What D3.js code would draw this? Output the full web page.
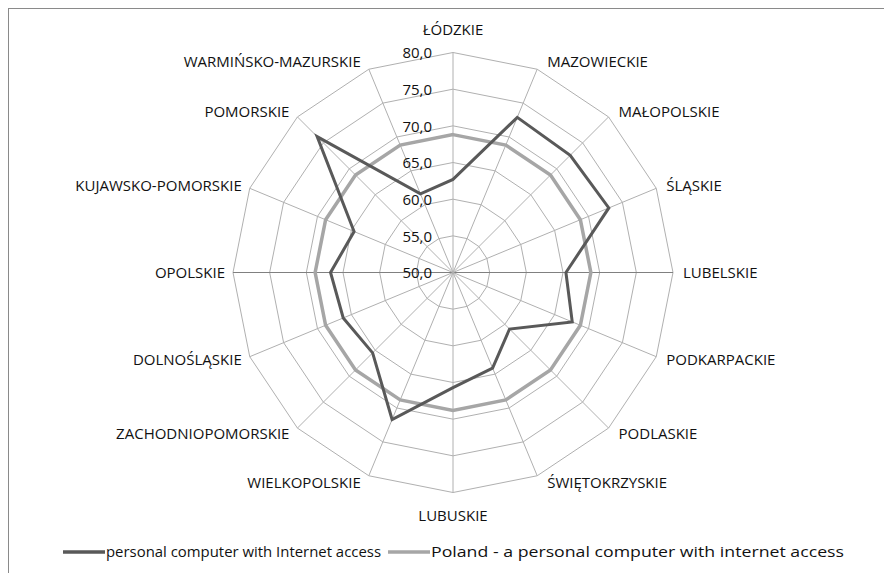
<!DOCTYPE html>
<html>
<head>
<meta charset="utf-8">
<script src="https://cdn.jsdelivr.net/npm/d3@7"></script>
<style>
  body { margin: 0; background: #fff; }
  svg text { font-family: "Open Sans", Lato, sans-serif; fill: #111; }
</style>
</head>
<body>
<svg id="chart" width="884" height="573"></svg>
<script>
var regions = ["ŁÓDZKIE", "MAZOWIECKIE", "MAŁOPOLSKIE", "ŚLĄSKIE", "LUBELSKIE", "PODKARPACKIE",
    "PODLASKIE", "ŚWIĘTOKRZYSKIE", "LUBUSKIE", "WIELKOPOLSKIE", "ZACHODNIOPOMORSKIE",
    "DOLNOŚLĄSKIE", "OPOLSKIE", "KUJAWSKO-POMORSKIE", "POMORSKIE", "WARMIŃSKO-MAZURSKIE"];
var regionValues = [62.7, 72.9, 72.6, 73.0, 65.4, 67.6, 60.9, 64.1, 65.7, 71.7, 65.5, 66.2, 66.7, 64.6, 76.2, 61.6];
var polandValues = [68.8, 68.8, 68.8, 68.8, 68.8, 68.8, 68.8, 68.8, 68.8, 68.8, 68.8, 68.8, 68.8, 68.8, 68.8, 68.8];
var tickValues = [50, 55, 60, 65, 70, 75, 80];
var seriesNames = ["personal computer with Internet access", "Poland - a personal computer with internet access"];

var svg = d3.select("#chart");
var cx = 453, cy = 272.5, R = 220;

var r = d3.scaleLinear().domain([50, 80]).range([0, R]);
var angle = d3.scaleLinear().domain([0, regions.length]).range([0, 2 * Math.PI]);
var fmt = d3.formatLocale({decimal: ",", thousands: " ", grouping: [3], currency: ["", ""]}).format(".1f");

// outer frame
svg.append("rect")
    .attr("x", 8.5).attr("y", 8.5)
    .attr("width", 900).attr("height", 600)
    .attr("fill", "none").attr("stroke", "#8a8a8a");

var g = svg.append("g").attr("transform", "translate(" + cx + "," + cy + ")");

function px(i, v) { return r(v) * Math.sin(angle(i)); }
function py(i, v) { return -r(v) * Math.cos(angle(i)); }

// rings
tickValues.slice(1).forEach(function(t) {
    g.append("path")
        .attr("d", d3.lineRadial().angle(function(d, i) { return angle(i); })
            .radius(function() { return r(t); }).curve(d3.curveLinearClosed)(regions))
        .attr("fill", "none").attr("stroke", "#b0b0b0").attr("stroke-width", 1);
});

// spokes
g.selectAll(".spoke").data(regions).enter().append("line")
    .attr("class", "spoke")
    .attr("x1", 0).attr("y1", 0)
    .attr("x2", function(d, i) { return px(i, 80); })
    .attr("y2", function(d, i) { return py(i, 80); })
    .attr("stroke", function(d, i) { return (i === 4 || i === 12) ? "#808080" : "#b0b0b0"; })
    .attr("stroke-width", 1);

// series
var line = d3.lineRadial()
    .angle(function(d, i) { return angle(i); })
    .radius(function(d) { return r(d); })
    .curve(d3.curveLinearClosed);

g.append("path").attr("d", line(polandValues))
    .attr("fill", "none").attr("stroke", "#a6a6a6").attr("stroke-width", 3.5);
g.append("path").attr("d", line(regionValues))
    .attr("fill", "none").attr("stroke", "#595959").attr("stroke-width", 3);

// tick labels
g.selectAll(".tick").data(tickValues).enter().append("text")
    .attr("x", -21).attr("y", function(d) { return -r(d); })
    .attr("dy", "0.38em")
    .attr("text-anchor", "end")
    .style("font-size", "15px")
    .text(function(d) { return fmt(d); });

// category labels
g.selectAll(".cat").data(regions).enter().append("text")
    .attr("x", function(d, i) {
        var s = Math.sin(angle(i));
        return px(i, 80) + (s > 0.01 ? 10 : s < -0.01 ? -8 : 0);
    })
    .attr("y", function(d, i) {
        var s = Math.sin(angle(i)), c = Math.cos(angle(i));
        return py(i, 80) + (Math.abs(s) < 0.01 ? -23 * c : -8 * c);
    })
    .attr("dy", "0.35em")
    .attr("text-anchor", function(d, i) {
        var s = Math.sin(angle(i));
        return s > 0.01 ? "start" : s < -0.01 ? "end" : "middle";
    })
    .style("font-size", "15px")
    .text(function(d) { return d; });

// legend
var legend = svg.append("g").attr("transform", "translate(0,552)");
var legendItems = [
    {x: 63, color: "#595959", textLen: 275},
    {x: 388, color: "#a6a6a6", textLen: 413}
];
legendItems.forEach(function(item, i) {
    legend.append("line")
        .attr("x1", item.x).attr("x2", item.x + 42)
        .attr("y1", 0).attr("y2", 0)
        .attr("stroke", item.color).attr("stroke-width", 3.5);
    legend.append("text")
        .attr("x", item.x + 43).attr("y", 0).attr("dy", "0.35em")
        .attr("textLength", item.textLen).attr("lengthAdjust", "spacingAndGlyphs")
        .style("font-size", "14px")
        .text(seriesNames[i]);
});
</script>
</body>
</html>
